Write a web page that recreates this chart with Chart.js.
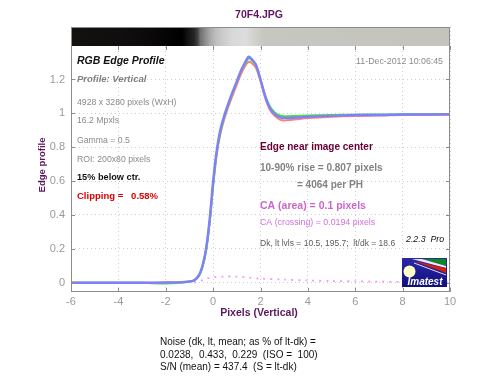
<!DOCTYPE html>
<html><head><meta charset="utf-8">
<script src="https://cdn.jsdelivr.net/npm/chart.js@4"></script>
<style>html,body{margin:0;padding:0;background:#fff;overflow:hidden}#wrap{width:500px;height:384px;position:relative}</style>
</head><body><div id="wrap"><canvas id="c" width="500" height="384"></canvas></div>
<script>
// ---- data ----
const xPixels = [-6,-5,-4,-3,-2.5,-2,-1.5,-1.2,-1,-0.8,-0.6,-0.45,-0.3,-0.15,0,0.15,0.3,0.5,0.75,1,1.2,1.4,1.5,1.6,1.8,2,2.2,2.4,2.6,2.8,3,3.5,4,5,6,7,8,9,10];
const blueEdge  = [0,0,0,0,0,0.001,0.002,0.004,0.007,0.015,0.045,0.10,0.20,0.37,0.60,0.78,0.90,1.0,1.10,1.19,1.26,1.315,1.335,1.325,1.29,1.20,1.10,1.03,0.995,0.978,0.972,0.975,0.98,0.985,0.99,0.99,0.993,0.993,0.995];
const greenEdge = [0,0,0,0,-0.004,-0.005,-0.002,0.003,0.006,0.012,0.04,0.09,0.185,0.35,0.575,0.765,0.885,0.99,1.095,1.185,1.255,1.305,1.325,1.318,1.285,1.2,1.105,1.04,1.005,0.988,0.983,0.985,0.988,0.99,0.992,0.993,0.994,0.995,0.996];
const redEdge   = [0,0,0,0,0,0.001,0.002,0.004,0.007,0.014,0.04,0.095,0.19,0.35,0.57,0.755,0.875,0.98,1.08,1.17,1.24,1.29,1.305,1.30,1.27,1.19,1.09,1.02,0.985,0.965,0.958,0.965,0.972,0.98,0.985,0.987,0.99,0.99,0.992];
const caX    = [-0.8,-0.5,-0.25,0,0.5,1,1.5,2,3,4,5,6,7,8,9,10];
const caDiff = [0,0.012,0.025,0.032,0.036,0.036,0.03,0.024,0.018,0.013,0.01,0.008,0.006,0.004,0.004,0.004];
const xTicks = [-6,-4,-2,0,2,4,6,8,10];
const yTicks = [0,0.2,0.4,0.6,0.8,1,1.2];

const titleText = "70F4.JPG";
const xTitle = "Pixels (Vertical)";
const yTitle = "Edge profile";

const pts = (xs, ys) => xs.map((x, i) => ({x, y: ys[i]}));
const FONT = '"Liberation Sans", Arial, sans-serif';

const decor = {
  id: 'decor',
  beforeDatasetsDraw(chart) {
    const {ctx, chartArea: a} = chart;
    const top = a.top, h = 19;
    const g = ctx.createLinearGradient(a.left, 0, a.right, 0);
    const stops = [[71,'#141210'],[120,'#100e0e'],[150,'#0b0909'],[172,'#040303'],[182,'#000'],[188,'#141414'],[194,'#252525'],[198,'#444'],[200,'#6e6e6e'],[205,'#8c8c8c'],[210,'#a8a8a8'],[216,'#bebebe'],[223,'#cccccc'],[232,'#d8d8d8'],[246,'#dddddd'],[255,'#d0d0cc'],[265,'#c7c7c1'],[450,'#c4c4bd']];
    stops.forEach(([px, c]) => g.addColorStop(Math.min(1, Math.max(0, (px - a.left) / (a.right - a.left))), c));
    ctx.save();
    ctx.fillStyle = g;
    ctx.fillRect(a.left, top, a.right - a.left, h);
    ctx.restore();
  },
  afterDraw(chart) {
    const {ctx, chartArea: a, scales} = chart;
    ctx.save();
    ctx.strokeStyle = '#8c8c8c';
    ctx.lineWidth = 1;
    ctx.strokeRect(Math.round(a.left) + 0.5, Math.round(a.top) + 0.5, Math.round(a.right - a.left) - 1, Math.round(a.bottom - a.top) - 1);
    ctx.strokeStyle = '#8c8c8c';
    ctx.beginPath();
    xTicks.forEach(v => {
      const px = Math.round(scales.x.getPixelForValue(v)) + 0.5;
      ctx.moveTo(px, a.bottom); ctx.lineTo(px, a.bottom - 4);
      ctx.moveTo(px, a.top + 19); ctx.lineTo(px, a.top + 23);
    });
    yTicks.forEach(v => {
      const py = Math.round(scales.y.getPixelForValue(v)) + 0.5;
      ctx.moveTo(a.left, py); ctx.lineTo(a.left + 4, py);
      ctx.moveTo(a.right, py); ctx.lineTo(a.right - 4, py);
    });
    ctx.stroke();

    const txt = (s, x, y, font, color, align) => {
      ctx.font = font; ctx.fillStyle = color; ctx.textAlign = align || 'left'; ctx.textBaseline = 'middle';
      ctx.fillText(s, x, y);
    };
    txt(titleText, 259, 15.5, 'bold 10.5px ' + FONT, '#5e1660', 'center');
    txt(xTitle, 259, 313.5, 'bold 10.5px ' + FONT, '#5e1660', 'center');
    ctx.save();
    ctx.translate(42, 165); ctx.rotate(-Math.PI / 2);
    txt(yTitle, 0, 0, 'bold 9.5px ' + FONT, '#5e1660', 'center');
    ctx.restore();

    txt('RGB Edge Profile', 77, 61, 'italic bold 10.5px ' + FONT, '#111', 'left');
    txt('Profile: Vertical', 77, 79, 'italic bold 9.5px ' + FONT, '#808080', 'left');
    txt('4928 x 3280 pixels (WxH)', 77, 103, '8.7px ' + FONT, '#8a8a8a', 'left');
    txt('16.2 Mpxls', 77, 121, '8.7px ' + FONT, '#8a8a8a', 'left');
    txt('Gamma = 0.5', 77, 141, '8.7px ' + FONT, '#8a8a8a', 'left');
    txt('ROI: 200x80 pixels', 77, 160, '8.7px ' + FONT, '#8a8a8a', 'left');
    txt('15% below ctr.', 77, 177, 'bold 9.2px ' + FONT, '#111', 'left');
    txt('Clipping =   0.58%', 77, 196, 'bold 9.5px ' + FONT, '#dd0000', 'left');

    txt('11-Dec-2012 10:06:45', 443, 62, '8.8px ' + FONT, '#8a8a8a', 'right');
    txt('Edge near image center', 260, 147.5, 'bold 10px ' + FONT, '#660033', 'left');
    txt('10-90% rise = 0.807 pixels', 260, 168.5, 'bold 10px ' + FONT, '#828282', 'left');
    txt('= 4064 per PH', 297, 185, 'bold 10px ' + FONT, '#828282', 'left');
    txt('CA (area) = 0.1 pixels', 260, 206, 'bold 10.5px ' + FONT, '#cc66cc', 'left');
    txt('CA (crossing) = 0.0194 pixels', 260, 223, '8.8px ' + FONT, '#d070d8', 'left');
    txt('Dk, lt lvls = 10.5, 195.7;  lt/dk = 18.6', 260, 244, '8.5px ' + FONT, '#5a5a5a', 'left');
    txt('2.2.3  Pro', 406, 239.5, 'italic 8.8px ' + FONT, '#111', 'left');

    txt('Noise (dk, lt, mean; as % of lt-dk) =', 160, 342.5, '10px ' + FONT, '#111', 'left');
    txt('0.0238,  0.433,  0.229  (ISO =  100)', 160, 355.5, '10px ' + FONT, '#111', 'left');
    txt('S/N (mean) = 437.4  (S = lt-dk)', 160, 367.5, '10px ' + FONT, '#111', 'left');

    const L = 402, T = 258, W = 45, H = 29;
    const lg = ctx.createLinearGradient(L, T, L, T + H);
    lg.addColorStop(0, '#2a2aa8'); lg.addColorStop(1, '#10107a');
    ctx.fillStyle = lg; ctx.fillRect(L, T, W, H);
    ctx.fillStyle = '#0a8a1a';
    ctx.beginPath(); ctx.moveTo(L + 20, T + 1); ctx.lineTo(L + W - 1, T + 1); ctx.lineTo(L + W - 1, T + 8); ctx.closePath(); ctx.fill();
    ctx.fillStyle = '#e8e8ff';
    ctx.beginPath(); ctx.moveTo(L + 10, T + 1); ctx.lineTo(L + 20, T + 1); ctx.lineTo(L + W - 1, T + 8); ctx.lineTo(L + W - 1, T + 10); ctx.closePath(); ctx.fill();
    ctx.fillStyle = '#d02010';
    ctx.beginPath(); ctx.moveTo(L + 12, T + 3); ctx.lineTo(L + W - 1, T + 10); ctx.lineTo(L + W - 1, T + 15); ctx.closePath(); ctx.fill();
    ctx.strokeStyle = '#f0d0f0'; ctx.lineWidth = 1;
    ctx.beginPath(); ctx.moveTo(L + 12, T + 5); ctx.lineTo(L + W - 1, T + 17); ctx.stroke();
    ctx.fillStyle = '#ffffc8';
    ctx.beginPath(); ctx.arc(L + 7.5, T + 13.5, 6, 0, Math.PI * 2); ctx.fill();
    txt('Imatest', L + 23, T + 24, 'italic bold 10px ' + FONT, '#fff', 'center');
    ctx.restore();
  }
};

new Chart(document.getElementById('c'), {
  type: 'line',
  data: {
    datasets: [
      {data: pts(xPixels, blueEdge), borderColor: '#8080ff', borderWidth: 2.4, tension: 0.3, pointRadius: 0},
      {data: pts(xPixels, greenEdge), borderColor: '#3ee03e', borderWidth: 2, tension: 0.3, pointRadius: 0},
      {data: pts(xPixels, redEdge), borderColor: '#ff7f7f', borderWidth: 2, tension: 0.3, pointRadius: 0},
      {data: pts(caX, caDiff), borderColor: '#f49cf4', borderWidth: 1.8, borderDash: [2, 5], tension: 0.3, pointRadius: 0}
    ]
  },
  options: {
    responsive: false,
    animation: false,
    events: [],
    layout: {padding: {top: 27, right: 50, left: 0, bottom: 0}},
    plugins: {legend: {display: false}, tooltip: {enabled: false}, title: {display: false}},
    scales: {
      x: {
        type: 'linear', min: -6, max: 10,
        afterFit: s => { s.height = 92; },
        afterBuildTicks: s => { s.ticks = xTicks.map(v => ({value: v})); },
        ticks: {color: '#9a9a9a', font: {family: FONT, size: 11}, padding: 3, maxRotation: 0,
                callback: v => String(v)},
        grid: {color: '#cfcfcf', drawTicks: false, lineWidth: 1},
        border: {display: false, dash: [1, 3]}
      },
      y: {
        type: 'linear', min: -0.055, max: 1.51,
        afterFit: s => { s.width = 71; },
        afterBuildTicks: s => { s.ticks = yTicks.map(v => ({value: v})); },
        ticks: {color: '#9a9a9a', font: {family: FONT, size: 11}, padding: 6,
                callback: v => String(Math.round(v * 10) / 10)},
        grid: {color: '#cfcfcf', drawTicks: false, lineWidth: 1},
        border: {display: false, dash: [1, 3]}
      }
    }
  },
  plugins: [decor]
});
</script>
</body></html>
